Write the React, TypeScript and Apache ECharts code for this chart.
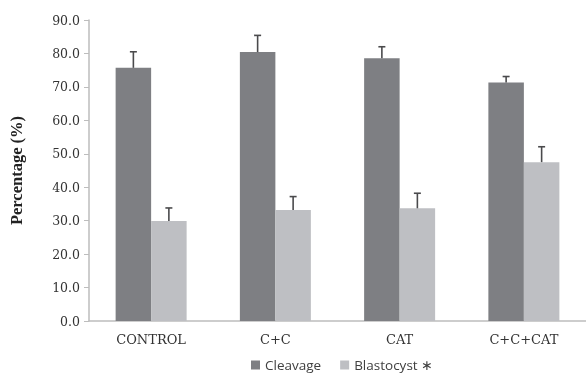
import React, { useEffect, useRef } from "react";
import * as echarts from "echarts";

const categories = ["CONTROL", "C+C", "CAT", "C+C+CAT"];
const cleavage = [75.7, 80.4, 78.6, 71.3];
const cleavageErr = [4.8, 5.0, 3.4, 1.8];
const blastocyst = [29.9, 33.2, 33.7, 47.5];
const blastocystErr = [3.9, 4.0, 4.5, 4.6];
const yTicks = [0, 10, 20, 30, 40, 50, 60, 70, 80, 90];

const BAR_W = 35.5;

function errorSeries(name: string, vals: number[], errs: number[], offset: number) {
  return {
    type: "custom",
    name: name + "-err",
    silent: true,
    z: 5,
    data: vals.map((v, i) => [i, v, v + errs[i]]),
    renderItem: (params: any, api: any) => {
      const base = api.coord([api.value(0), api.value(1)]);
      const top = api.coord([api.value(0), api.value(2)]);
      const x = base[0] + offset;
      const capHalf = 3.5;
      const st = { stroke: "#4a4a4c", lineWidth: 1.6 };
      return {
        type: "group",
        children: [
          { type: "line", shape: { x1: x, y1: base[1], x2: x, y2: top[1] }, style: st },
          { type: "line", shape: { x1: x - capHalf, y1: top[1], x2: x + capHalf, y2: top[1] }, style: st },
        ],
      };
    },
  };
}

export default function App() {
  const ref = useRef<HTMLDivElement>(null);
  useEffect(() => {
    if (!ref.current) return;
    const chart = echarts.init(ref.current, undefined, { renderer: "svg" });
    chart.setOption({
      animation: false,
      grid: { left: 85, right: 0, top: 20, bottom: 55 },
      legend: {
        left: 246,
        top: 353,
        icon: "rect",
        itemWidth: 9,
        itemHeight: 9,
        itemGap: 19,
        textStyle: { fontFamily: "Open Sans", fontSize: 13.5, color: "#404040" },
        data: ["Cleavage", "Blastocyst ∗"],
      },
      xAxis: {
        type: "category",
        data: categories,
        axisLine: { lineStyle: { color: "#bdbdbd", width: 1.5 } },
        axisTick: { show: false },
        axisLabel: { fontFamily: "DejaVu Serif", fontSize: 13, color: "#333", margin: 12 },
      },
      yAxis: {
        type: "value",
        min: 0,
        max: 90,
        interval: 10,
        name: "Percentage (%)",
        nameLocation: "middle",
        nameGap: 64,
        nameTextStyle: { fontFamily: "Liberation Serif", fontWeight: "bold", fontSize: 16.5, color: "#222" },
        axisLine: { show: true, lineStyle: { color: "#bdbdbd", width: 1.5 } },
        axisTick: { show: true, length: 5, lineStyle: { color: "#bdbdbd" } },
        splitLine: { show: false },
        axisLabel: {
          fontFamily: "DejaVu Serif",
          fontSize: 12.5,
          color: "#333",
          margin: 9,
          formatter: (v: number) => (yTicks.includes(v) ? v.toFixed(1) : ""),
        },
      },
      series: [
        {
          type: "bar",
          name: "Cleavage",
          data: cleavage,
          barWidth: BAR_W,
          barGap: "0%",
          itemStyle: { color: "#7e7f83" },
        },
        {
          type: "bar",
          name: "Blastocyst ∗",
          data: blastocyst,
          barWidth: BAR_W,
          barGap: "0%",
          itemStyle: { color: "#bebfc3" },
        },
        errorSeries("Cleavage", cleavage, cleavageErr, -BAR_W / 2),
        errorSeries("Blastocyst", blastocyst, blastocystErr, BAR_W / 2),
      ],
    });
    return () => chart.dispose();
  }, []);
  return <div ref={ref} style={{ width: 586, height: 376, position: "fixed", left: 0, top: 0 }} />;
}
